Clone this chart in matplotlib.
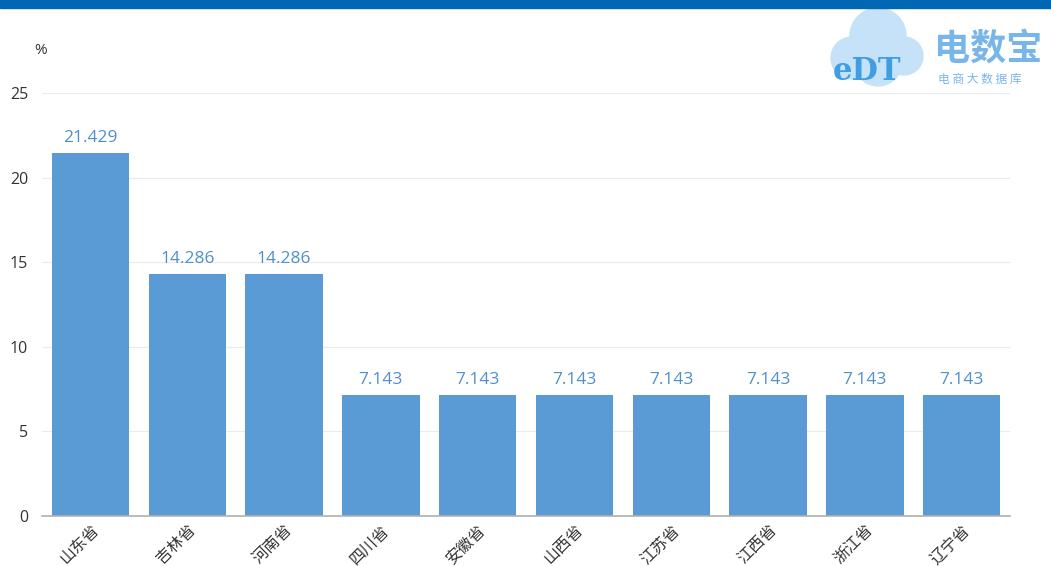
import matplotlib.pyplot as plt
from matplotlib.patches import Ellipse, Rectangle

plt.rcParams['font.family'] = ['Open Sans', 'Noto Sans CJK SC', 'DejaVu Sans']

provinces = ['山东省', '吉林省', '河南省', '四川省', '安徽省',
             '山西省', '江苏省', '江西省', '浙江省', '辽宁省']
shares = [21.429, 14.286, 14.286, 7.143, 7.143,
          7.143, 7.143, 7.143, 7.143, 7.143]
y_ticks = [0, 5, 10, 15, 20, 25]

bar_color = '#5b9bd5'
label_color = '#4f8fcc'

W, H = 1051, 566
fig = plt.figure(figsize=(W / 100, H / 100), dpi=100)
ax = fig.add_axes([0.040, 0.0883, 0.921, 0.7474])

x = range(len(provinces))
bars = ax.bar(x, shares, width=0.8, color=bar_color, zorder=2)
for b, v in zip(bars, shares):
    ax.text(b.get_x() + b.get_width() / 2, v + 0.45, f'{v:.3f}',
            ha='center', va='bottom', fontsize=12.5, color=label_color)

ax.set_xlim(-0.5, len(provinces) - 0.5)
ax.set_ylim(0, 25)
ax.set_yticks(y_ticks)
ax.set_xticks(list(x))
ax.set_xticklabels(provinces, rotation=45, ha='right', va='top',
                   rotation_mode='anchor', fontsize=11.5, color='#333333',
                   family=['Noto Sans CJK SC', 'DejaVu Sans'])
ax.tick_params(axis='y', length=0, pad=10, labelsize=11.5, labelcolor='#333333')
ax.tick_params(axis='x', length=0, pad=4)
ax.grid(axis='y', color='#ebebeb', linewidth=0.8, zorder=0)
for side in ['left', 'right', 'top']:
    ax.spines[side].set_visible(False)
ax.spines['bottom'].set_color('#b0b0b0')
ax.spines['bottom'].set_linewidth(1.2)

fig.text(0.033, 0.905, '%', fontsize=11, color='#333333')

# header strip
fig.patches.append(Rectangle((0, 0.985), 1, 0.015, transform=fig.transFigure,
                             color='#0067b5', zorder=5))


def blob(px, py, d):
    # circle given in pixel units, placed in figure coordinates
    return Ellipse((px / W, 1 - py / H), d / W, d / H,
                   transform=fig.transFigure, color='#c6e2f8', zorder=4)


# logo: cloud with lettering
for px, py, d in [(878, 36, 56), (852, 58, 42), (904, 56, 38), (878, 62, 48)]:
    fig.patches.append(blob(px, py, d))
fig.text(833 / W, 1 - 80 / H, 'eDT', fontsize=22, fontweight='bold',
         color='#3f9de3', family='DejaVu Serif', zorder=6)
fig.text(934 / W, 1 - 60 / H, '电数宝', fontsize=26, color='#78b6ea',
         fontweight='bold', family=['Noto Sans CJK SC'], zorder=6)
fig.text(938 / W, 1 - 83 / H, '电 商 大 数 据 库', fontsize=8.5, color='#78b6ea',
         family=['Noto Sans CJK SC'], zorder=6)

fig.savefig('out.png', dpi=100)
